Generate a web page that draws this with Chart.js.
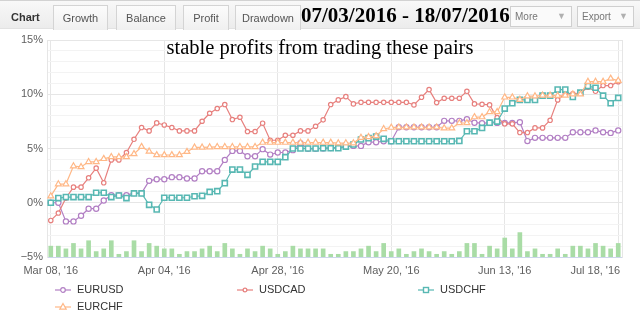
<!DOCTYPE html>
<html>
<head>
<meta charset="utf-8">
<script src="https://cdn.jsdelivr.net/npm/chart.js@4.4.1/dist/chart.umd.min.js"></script>
<style>
  html, body { margin: 0; padding: 0; background: #fff; }
  #wrap { position: relative; width: 640px; height: 326px; overflow: hidden; font-family: "Liberation Sans", Arial, sans-serif; }
  #chart { position: absolute; left: 0; top: 0; }
  .topbar { position: absolute; left: 0; top: 0; width: 640px; height: 29px; box-sizing: border-box;
            background: linear-gradient(#f8f8f8, #ececec); border-top: 1px solid #d2d2d2; border-bottom: 1px solid #e2e2e2; }
  .tab { position: absolute; top: 4px; height: 25px; box-sizing: border-box; border: 1px solid #d4d4d4; border-bottom: none;
         background: linear-gradient(#fcfcfc, #f0f0f0); color: #555; font-size: 11px; line-height: 24px; text-align: center; }
  .active { position: absolute; top: 4px; left: 11px; font-size: 11px; line-height: 24px; font-weight: bold; color: #333; }
  .btn { position: absolute; top: 5px; height: 21px; box-sizing: border-box; border: 1px solid #cfcfcf; background: #fafafa;
         color: #777; font-size: 10px; line-height: 19px; padding-left: 4px; }
  .btn span { position: absolute; right: 5px; top: 0; color: #b0b0b0; font-size: 9px; }
  .dates { position: absolute; left: 301px; top: 3px; font: bold 21px "Liberation Serif", "Times New Roman", serif; line-height: 24px; color: #000; white-space: nowrap; }
  .note { position: absolute; left: 0; top: 35px; width: 640px; text-align: center; font: 20.5px "Liberation Serif", "Times New Roman", serif; line-height: 24px; color: #000; }
  .leg { position: absolute; font-size: 11px; color: #333; line-height: 14px; white-space: nowrap; }
  .leg svg { vertical-align: -2px; margin-right: 6px; }
</style>
</head>
<body>
<div id="wrap">
  <canvas id="chart" width="640" height="326"></canvas>
  <div class="topbar">
    <div class="active">Chart</div>
    <div class="tab" style="left:53px;width:55px">Growth</div>
    <div class="tab" style="left:116px;width:60px">Balance</div>
    <div class="tab" style="left:183px;width:46px">Profit</div>
    <div class="tab" style="left:235px;width:66px">Drawdown</div>
    <div class="btn" style="left:510px;width:62px">More<span>&#9660;</span></div>
    <div class="btn" style="left:577px;width:57px">Export<span>&#9660;</span></div>
  </div>
  <div class="dates">07/03/2016 - 18/07/2016</div>
  <div class="note">stable profits from trading these pairs</div>
  <div id="legend"></div>
</div>
<script>
const dates = [
  "Mar 08, '16", "Mar 09, '16", "Mar 10, '16", "Mar 11, '16", "Mar 14, '16", "Mar 15, '16", "Mar 16, '16", "Mar 17, '16",
  "Mar 18, '16", "Mar 21, '16", "Mar 22, '16", "Mar 23, '16", "Mar 24, '16", "Mar 29, '16", "Mar 31, '16", "Apr 04, '16",
  "Apr 05, '16", "Apr 06, '16", "Apr 07, '16", "Apr 08, '16", "Apr 11, '16", "Apr 12, '16", "Apr 13, '16", "Apr 14, '16",
  "Apr 15, '16", "Apr 18, '16", "Apr 19, '16", "Apr 20, '16", "Apr 21, '16", "Apr 25, '16", "Apr 28, '16",
  "Apr 29, '16", "May 02, '16", "May 03, '16", "May 04, '16", "May 05, '16", "May 06, '16", "May 09, '16", "May 10, '16",
  "May 11, '16", "May 12, '16", "May 13, '16", "May 16, '16", "May 17, '16", "May 18, '16", "May 20, '16",
  "May 23, '16", "May 24, '16", "May 25, '16", "May 26, '16", "May 27, '16", "May 31, '16", "Jun 01, '16", "Jun 02, '16",
  "Jun 03, '16", "Jun 06, '16", "Jun 07, '16", "Jun 08, '16", "Jun 09, '16", "Jun 10, '16", "Jun 13, '16",
  "Jun 14, '16", "Jun 16, '16", "Jun 17, '16", "Jun 20, '16", "Jun 22, '16", "Jun 24, '16", "Jun 27, '16", "Jun 29, '16",
  "Jul 01, '16", "Jul 05, '16", "Jul 07, '16", "Jul 11, '16", "Jul 13, '16", "Jul 15, '16", "Jul 18, '16"
];
const tickIndex = [0, 15, 30, 45, 60, 75];

// growth in %
const eurusd = [0.0, 0.0, -1.72, -1.72, -1.2, -0.55, -0.55, 0.21, 0.7, 0.7, 0.7, 0.89, 0.89, 2.02, 2.17, 2.17, 2.36, 2.36, 2.24, 2.24,
  2.91, 2.91, 2.91, 3.95, 4.78, 4.78, 4.29, 4.29, 4.94, 4.44, 4.63, 4.63, 4.85, 5.49, 4.97, 4.97, 5.0, 5.05, 5.1, 5.15,
  5.24, 5.24, 5.58, 5.58, 5.67, 5.67, 6.96, 6.96, 6.96, 6.96, 6.96, 6.96, 7.55, 7.55, 7.55, 7.7, 7.38, 7.33, 7.36, 7.36,
  7.36, 7.36, 7.42, 5.68, 5.98, 5.98, 5.98, 5.98, 5.98, 6.5, 6.5, 6.5, 6.67, 6.5, 6.44, 6.67];
const usdcad = [-1.63, -0.95, 0.43, 1.44, 1.44, 2.3, 3.19, 1.84, 3.95, 3.95, 4.63, 5.85, 6.93, 6.62, 7.36, 7.17, 6.93, 6.62, 6.62, 6.62,
  7.51, 8.25, 8.68, 9.05, 7.67, 7.88, 6.56, 6.56, 7.33, 5.76, 5.76, 6.22, 6.22, 6.62, 6.62, 7.05, 7.64, 9.05, 9.48, 9.78,
  9.11, 9.26, 9.26, 9.26, 9.26, 9.26, 9.26, 9.26, 9.02, 9.72, 10.43, 9.23, 9.63, 9.63, 9.63, 10.27, 9.11, 9.08, 9.02, 7.85,
  7.27, 7.27, 6.47, 6.47, 6.9, 6.9, 7.6, 9.48, 10.03, 10.03, 10.1, 10.64, 10.27, 10.8, 10.8, 11.16];
const usdchf = [0.0, 0.43, 0.52, 0.52, 0.52, 0.52, 0.92, 0.92, 0.52, 0.67, 0.43, 0.86, 0.86, -0.19, -0.62, 0.46, 0.46, 0.46, 0.46, 0.6,
  0.64, 1.0, 1.07, 1.8, 3.06, 3.06, 2.57, 3.34, 3.77, 3.77, 3.77, 4.2, 5.0, 5.0, 5.0, 5.0, 5.03, 5.03, 5.03, 5.18,
  5.37, 5.83, 5.95, 6.1, 5.89, 5.67, 5.67, 5.67, 5.67, 5.67, 5.67, 5.67, 5.67, 5.67, 5.7, 6.59, 6.59, 6.9, 7.38, 7.48,
  8.68, 9.17, 9.48, 9.48, 9.48, 9.87, 9.87, 10.43, 10.43, 9.75, 10.15, 10.75, 10.6, 9.87, 9.17, 9.66];
const eurchf = [0.61, 1.72, 1.72, 3.38, 3.3, 3.77, 3.77, 4.05, 4.22, 4.22, 4.22, 4.5, 5.16, 4.73, 4.4, 4.4, 4.4, 4.4, 4.7, 5.1,
  5.1, 5.12, 5.15, 5.15, 5.15, 5.15, 5.15, 5.15, 5.55, 5.55, 5.55, 5.55, 5.55, 5.55, 5.55, 5.55, 5.55, 5.55, 5.5, 5.5,
  5.5, 6.0, 6.07, 6.15, 6.8, 6.93, 6.96, 6.96, 6.96, 6.96, 6.96, 6.96, 6.87, 6.87, 7.35, 7.35, 7.9, 7.9, 8.37, 8.37,
  9.72, 9.72, 9.5, 9.82, 9.82, 9.9, 9.9, 9.87, 9.9, 10.0, 10.0, 11.16, 11.16, 11.16, 11.45, 11.26];
// trades per day (green bars)
const trades = [4, 4, 3, 5, 3, 6, 2, 3, 6, 1, 2, 6, 2, 5, 4, 3, 3, 1, 2, 2,
  3, 4, 2, 5, 3, 1, 3, 2, 4, 3, 1, 2, 4, 3, 3, 3, 3, 1,
  1, 2, 2, 3, 4, 2, 5, 2, 3, 1, 2, 3, 2, 1, 2, 1, 2, 5, 5, 1, 4, 3,
  7, 3, 9, 2, 3, 1, 1, 3, 1, 4, 4, 3, 5, 4, 3, 5];

const series = [
  {label: 'EURUSD', data: eurusd, color: '#b27fc4', style: 'circle', radius: 2.6, order: 4},
  {label: 'USDCAD', data: usdcad, color: '#e7807e', style: 'circle', radius: 2.2, order: 3},
  {label: 'USDCHF', data: usdchf, color: '#58b8b3', style: 'rect', radius: 3.6, order: 2},
  {label: 'EURCHF', data: eurchf, color: '#ffb887', style: 'triangle', radius: 3.4, order: 1}
];

const datasets = series.map(s => ({
  type: 'line', label: s.label, data: s.data, yAxisID: 'y', order: s.order,
  borderColor: s.color, borderWidth: 1.2, tension: 0,
  pointStyle: s.style, pointRadius: s.radius, pointBorderWidth: s.style === 'rect' ? 1.6 : 1.2,
  pointBorderColor: s.color, pointBackgroundColor: '#fff'
}));
datasets.push({type: 'bar', label: 'Trades', data: trades, yAxisID: 'y2', order: 10,
  backgroundColor: '#a9dca6', barThickness: 4});

const tickFont = {family: "'Liberation Sans', Arial, sans-serif", size: 11};

new Chart(document.getElementById('chart'), {
  type: 'line',
  data: {labels: dates, datasets},
  options: {
    responsive: false, animation: false,
    layout: {padding: {top: 40, right: 18, bottom: 49, left: 0}},
    plugins: {legend: {display: false}, tooltip: {enabled: false}},
    scales: {
      x: {
        offset: true,
        grid: {color: '#e6e6e6', drawTicks: false, offset: false},
        border: {color: '#ccd6eb'},
        ticks: {
          autoSkip: false, maxRotation: 0, padding: 7, color: '#606060', font: tickFont,
          callback: (v, i, ticks) => i === ticks.length - 1 ? dates[v] + ' '.repeat(15) : dates[v]
        },
        afterBuildTicks: s => { s.ticks = s.ticks.filter(t => tickIndex.includes(t.value)); },
        afterFit: s => { s.paddingLeft = 0; s.paddingRight = 0; s.height = 20; }
      },
      y: {
        min: -5, max: 15,
        grid: {drawTicks: false, color: c => c.tick && c.tick.value % 5 === 0 ? '#e6e6e6' : '#f3f3f3'},
        border: {color: '#e6e6e6'},
        ticks: {
          stepSize: 1, autoSkip: false, padding: 4, color: '#606060', font: tickFont,
          callback: v => v % 5 === 0 ? (v < 0 ? '\u2212' + (-v) : v) + '%' : ''
        },
        afterFit: s => { s.width = 47; }
      },
      y2: {
        position: 'right', min: 0, max: 80,
        grid: {display: false, drawTicks: false},
        border: {color: '#e6e6e6'},
        ticks: {display: false}
      }
    }
  }
});

// legend laid out like the original: three columns, wrapping
const legendPos = [[55, 282], [237, 282], [418, 282], [55, 299]];
const marker = s => {
  if (s.style === 'rect') return `<rect x="5.5" y="2.5" width="5" height="5" fill="#fff" stroke="${s.color}" stroke-width="1.4"/>`;
  if (s.style === 'triangle') return `<polygon points="8,1.5 11.2,7.2 4.8,7.2" fill="#fff" stroke="${s.color}" stroke-width="1.2"/>`;
  return `<circle cx="8" cy="5" r="${s.radius - 0.3}" fill="#fff" stroke="${s.color}" stroke-width="1.2"/>`;
};
document.getElementById('legend').innerHTML = series.map((s, i) =>
  `<div class="leg" style="left:${legendPos[i][0]}px;top:${legendPos[i][1]}px">` +
  `<svg width="16" height="10"><line x1="0" y1="5" x2="16" y2="5" stroke="${s.color}" stroke-width="1.2"/>${marker(s)}</svg>${s.label}</div>`
).join('');
</script>
</body>
</html>
